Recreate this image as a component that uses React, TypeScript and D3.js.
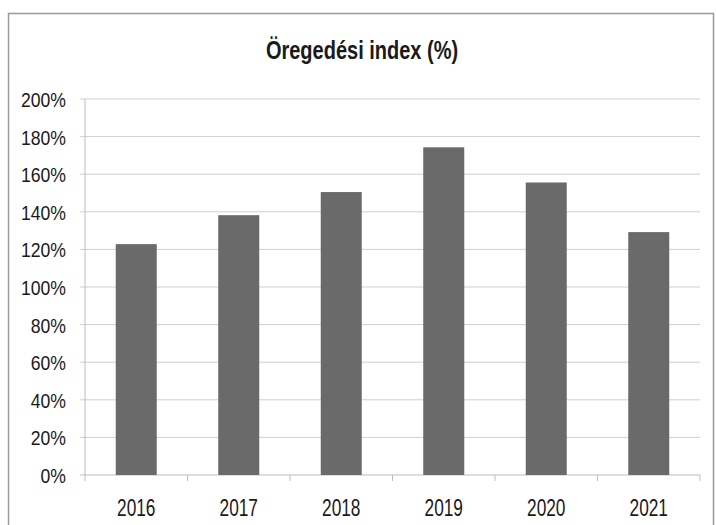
import React from "react";
import * as d3 from "d3";

const categories = ["2016", "2017", "2018", "2019", "2020", "2021"];
const values = [122.8, 138.2, 150.5, 174.3, 155.6, 129.2];
const yTicks = [0, 20, 40, 60, 80, 100, 120, 140, 160, 180, 200];
const title = "Öregedési index (%)";

function SText(props: { x: number; y: number; sx: number; size: number; anchor: string; weight?: string; children: React.ReactNode }) {
  return (
    <text
      transform={`translate(${props.x},${props.y}) scale(${props.sx},1)`}
      textAnchor={props.anchor}
      fontFamily="'Liberation Sans', Arial, sans-serif"
      fontWeight={props.weight || "normal"}
      fontSize={props.size}
      fill="#1a1a1a"
    >
      {props.children}
    </text>
  );
}

export default function App() {
  const W = 716, H = 525;
  const left = 85, right = 700, top = 99, bottom = 475;
  const x = d3.scaleBand<string>().domain(categories).range([left, right]).paddingInner(0.6).paddingOuter(0.3);
  const xb = d3.scaleBand<string>().domain(categories).range([left, right]);
  const y = d3.scaleLinear().domain([0, 200]).range([bottom, top]);
  const grid = "#cfcfcf";
  return (
    <svg width={W} height={H} style={{ position: "absolute", left: 0, top: 0, background: "#fff" }}>
      <rect x={8.5} y={13.5} width={705} height={520} fill="#fff" stroke="#9a9a9a" strokeWidth={1.5} />
      <SText x={362} y={59} sx={0.8} size={25} anchor="middle" weight="bold">{title}</SText>
      {yTicks.map((t) => (
        <g key={t}>
          <line x1={left - 5} x2={right} y1={y(t)} y2={y(t)} stroke={t === 0 ? "#bdbdbd" : grid} strokeWidth={1} />
          <SText x={66} y={y(t) + 8} sx={0.84} size={21} anchor="end">{t}%</SText>
        </g>
      ))}
      <line x1={left} x2={left} y1={top} y2={bottom} stroke="#bdbdbd" />
      {categories.map((c) => (
        <line key={"t" + c} x1={xb(c)!} x2={xb(c)!} y1={bottom} y2={bottom + 6} stroke="#bdbdbd" />
      ))}
      <line x1={right} x2={right} y1={bottom} y2={bottom + 6} stroke="#bdbdbd" />
      {categories.map((c, i) => (
        <rect key={c} x={x(c)!} y={y(values[i])} width={x.bandwidth()} height={bottom - y(values[i])} fill="#6a6a6a" />
      ))}
      {categories.map((c) => (
        <SText key={"l" + c} x={xb(c)! + xb.bandwidth() / 2} y={516} sx={0.72} size={24} anchor="middle">{c}</SText>
      ))}
    </svg>
  );
}
